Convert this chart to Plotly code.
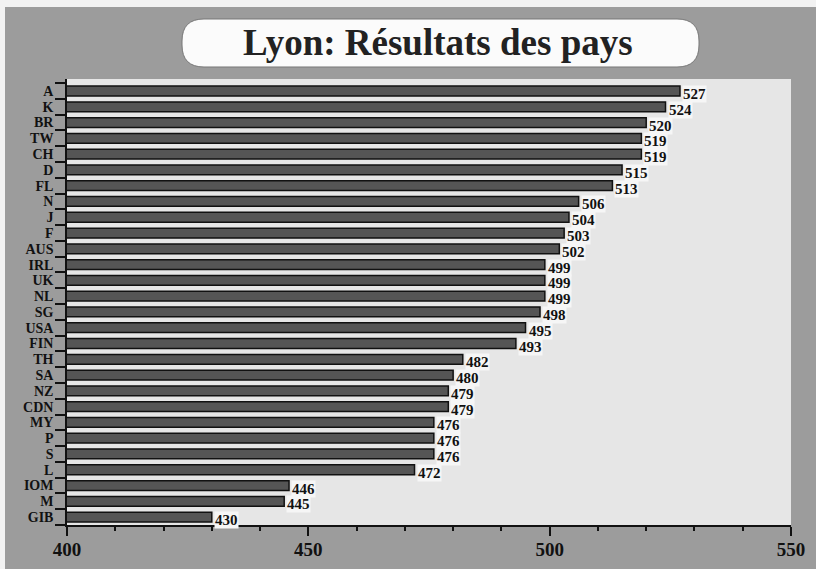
import plotly.graph_objects as go

countries = ["A", "K", "BR", "TW", "CH", "D", "FL", "N", "J", "F", "AUS", "IRL", "UK", "NL",
             "SG", "USA", "FIN", "TH", "SA", "NZ", "CDN", "MY", "P", "S", "L", "IOM", "M", "GIB"]
scores = [527, 524, 520, 519, 519, 515, 513, 506, 504, 503, 502, 499, 499, 499,
          498, 495, 493, 482, 480, 479, 479, 476, 476, 476, 472, 446, 445, 430]
x_tick_vals = [400, 450, 500, 550]
x_tick_text = ["400", "450", "500", "550"]
title_text = "Lyon: Résultats des pays"

W, H = 816, 569
L, R, T, B = 67, 25, 79, 44
PW, PH = W - L - R, H - T - B


def px(xp):
    return (xp - L) / PW


def py(yp):
    return (H - B - yp) / PH


serif = "Liberation Serif, Times New Roman, serif"

fig = go.Figure()
fig.add_trace(go.Bar(
    x=scores, y=countries, orientation="h",
    marker=dict(color="#555555", line=dict(color="#111111", width=1.5)),
    hoverinfo="x+y",
))

annotations = []
for c, v in zip(countries, scores):
    annotations.append(dict(
        x=v, y=c, xref="x", yref="y", text=f"<b>{v}</b>", showarrow=False,
        xanchor="left", yanchor="middle", xshift=2, yshift=-3,
        font=dict(family=serif, size=15, color="#111111"),
        bgcolor="#f6f6f6", borderpad=0,
    ))
annotations.append(dict(
    x=px(438), y=py(43), xref="paper", yref="paper", text=f"<b>{title_text}</b>",
    showarrow=False, xanchor="center", yanchor="middle",
    font=dict(family=serif, size=37, color="#222222"),
))

# rounded title box path
x0, x1, y0, y1, r = 182, 699, 19, 67, 22
def P(a, b):
    return f"{px(a):.5f},{py(b):.5f}"
path = (f"M {P(x0 + r, y0)} L {P(x1 - r, y0)} Q {P(x1, y0)} {P(x1, y0 + r)} "
        f"L {P(x1, y1 - r)} Q {P(x1, y1)} {P(x1 - r, y1)} L {P(x0 + r, y1)} "
        f"Q {P(x0, y1)} {P(x0, y1 - r)} L {P(x0, y0 + r)} Q {P(x0, y0)} {P(x0 + r, y0)} Z")

shapes = [
    dict(type="rect", xref="paper", yref="paper", x0=px(5), x1=px(W), y0=py(7), y1=py(H),
         fillcolor="#9c9c9c", line=dict(width=0), layer="below"),
    dict(type="rect", xref="paper", yref="paper", x0=0, x1=1, y0=0, y1=1,
         fillcolor="#e6e6e6", line=dict(width=0), layer="below"),
    dict(type="path", xref="paper", yref="paper", path=path,
         fillcolor="#fbfbfb", line=dict(color="#777777", width=1), layer="below"),
]

fig.update_layout(
    width=W, height=H,
    margin=dict(l=L, r=R, t=T, b=B, pad=0, autoexpand=False),
    paper_bgcolor="#f2f2f2",
    plot_bgcolor="rgba(0,0,0,0)",
    bargap=0.38,
    showlegend=False,
    annotations=annotations,
    shapes=shapes,
    font=dict(family=serif, color="#111111"),
)
fig.update_xaxes(
    range=[400, 550], tickvals=x_tick_vals, ticktext=[f"<b>{t}</b>" for t in x_tick_text],
    ticks="outside", ticklen=9, tickwidth=1.5, tickcolor="#111111",
    minor=dict(dtick=10, tick0=400, ticks="outside", ticklen=4, tickwidth=1.5, tickcolor="#111111"),
    ticklabelstandoff=-3,
    showline=True, linecolor="#111111", linewidth=1.5,
    showgrid=False, zeroline=False, automargin=False,
    tickfont=dict(family=serif, size=19, color="#111111"),
)
fig.update_yaxes(
    autorange="reversed", type="category",
    tickmode="array", tickvals=countries, ticktext=[f"<b>{c}</b>" for c in countries],
    ticks="outside", tickson="boundaries", ticklen=10, tickwidth=1.5, tickcolor="#111111",
    ticklabelstandoff=9,
    showline=True, linecolor="#111111", linewidth=1.5,
    showgrid=False, zeroline=False, automargin=False,
    tickfont=dict(family=serif, size=14, color="#111111"),
)

fig.write_html("out.html", config={"displayModeBar": False},
               post_script="document.body.style.margin='0px';")
